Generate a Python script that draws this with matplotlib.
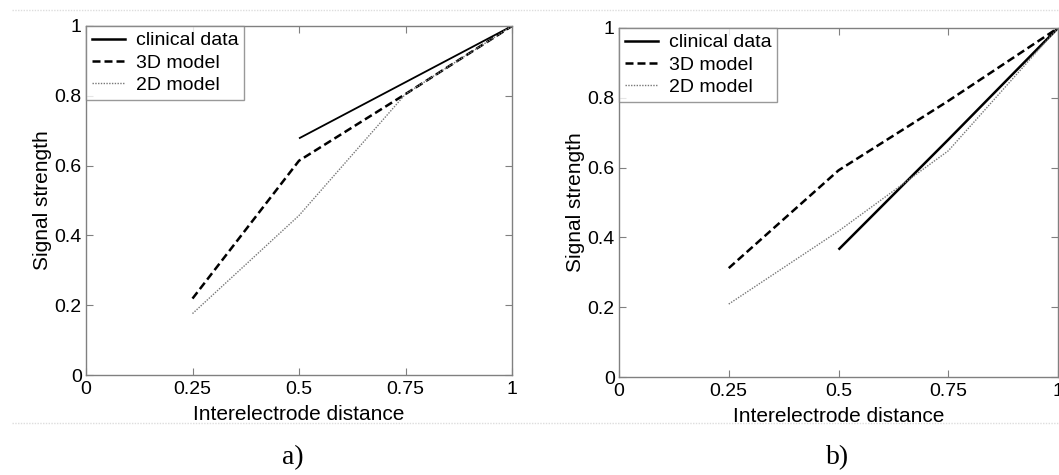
import matplotlib
matplotlib.use("Agg")
import matplotlib.pyplot as plt
from matplotlib.lines import Line2D

x_pts = [0.25, 0.5, 0.75, 1.0]
x_clin = [0.5, 0.75, 1.0]

# panel a
a_clinical = [0.678, 0.839, 1.0]
a_model3d = [0.219, 0.614, 0.805, 1.0]
a_model2d = [0.176, 0.457, 0.805, 1.0]
# panel b
b_clinical = [0.365, 0.68, 1.0]
b_model3d = [0.312, 0.592, 0.791, 1.0]
b_model2d = [0.209, 0.418, 0.648, 1.0]

xticks = [0, 0.25, 0.5, 0.75, 1]
xticklabels = ["0", "0.25", "0.5", "0.75", "1"]
yticks = [0, 0.2, 0.4, 0.6, 0.8, 1]
yticklabels = ["0", "0.2", "0.4", "0.6", "0.8", "1"]
legend_labels = ["clinical data", "3D model", "2D model"]
captions = ["a)", "b)"]

plt.rcParams['font.family'] = ['Liberation Sans', 'DejaVu Sans']
W, H = 1059, 475
fig = plt.figure(figsize=(W / 100, H / 100), dpi=100)

def make_ax(l, t, r, b):
    return fig.add_axes([l / W, 1 - b / H, (r - l) / W, (b - t) / H])

axes = [make_ax(86, 26, 512, 375), make_ax(619, 28, 1058, 377)]
data = [(a_clinical, a_model3d, a_model2d), (b_clinical, b_model3d, b_model2d)]
clin_lw = [1.3, 1.8]

for i, (ax, (clin, m3, m2)) in enumerate(zip(axes, data)):
    ax.plot(x_clin, clin, color='black', lw=clin_lw[i], solid_capstyle='butt')
    ax.plot(x_pts, m3, color='black', lw=1.8, ls=(0, (3.2, 1.6)))
    ax.plot(x_pts, m2, color='#777777', lw=1.0, ls=(0, (1, 1)))
    ax.set_xlim(0, 1)
    ax.set_ylim(0, 1)
    ax.set_xticks(xticks)
    ax.set_xticklabels(xticklabels)
    ax.set_yticks(yticks)
    ax.set_yticklabels(yticklabels)
    ax.tick_params(direction='in', length=5, width=0.8, color='#808080',
                   labelsize=14, top=True, right=True, pad=3)
    ax.tick_params(axis='x', pad=4)
    for s in ax.spines.values():
        s.set_color('#808080')
        s.set_linewidth(1.0)
    ax.set_xlabel("Interelectrode distance", fontsize=15, labelpad=5)
    ax.set_ylabel("Signal strength", fontsize=15, labelpad=2)
    handles = [Line2D([], [], color='black', lw=1.8),
               Line2D([], [], color='black', lw=1.8, ls=(0, (3.2, 1.6))),
               Line2D([], [], color='#777777', lw=1.0, ls=(0, (1, 1)))]
    leg = ax.legend(handles, legend_labels, loc='upper left', fontsize=14,
                    frameon=True, fancybox=False, borderaxespad=0,
                    handlelength=1.7, handletextpad=0.55, labelspacing=0.24,
                    borderpad=0.3)
    leg.get_frame().set_edgecolor('#808080')
    leg.get_frame().set_linewidth(1.0)

fig.text(293 / W, 1 - 458 / H, captions[0], fontsize=20, family='Liberation Serif',
         ha='center', va='center')
fig.text(838 / W, 1 - 458 / H, captions[1], fontsize=20, family='Liberation Serif',
         ha='center', va='center')

for yy in (10, 423):
    fig.add_artist(Line2D([12 / W, 1], [1 - yy / H, 1 - yy / H], color='#dddddd',
                          lw=1.0, ls=(0, (1, 1)), transform=fig.transFigure))

fig.savefig("out.png", dpi=100)
